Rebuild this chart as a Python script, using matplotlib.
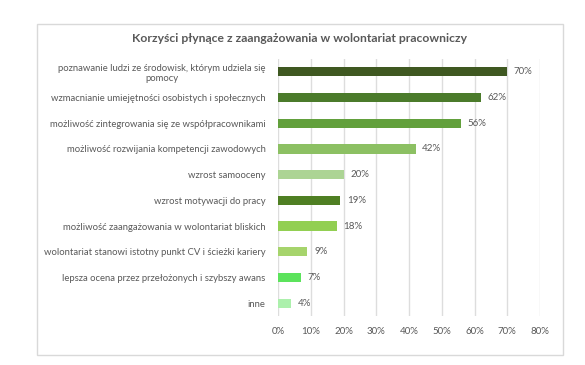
import matplotlib.pyplot as plt
from matplotlib.patches import Rectangle

categories = [
    'poznawanie ludzi ze środowisk, którym udziela się\npomocy',
    'wzmacnianie umiejętności osobistych i społecznych',
    'możliwość zintegrowania się ze współpracownikami',
    'możliwość rozwijania kompetencji zawodowych',
    'wzrost samooceny',
    'wzrost motywacji do pracy',
    'możliwość zaangażowania w wolontariat bliskich',
    'wolontariat stanowi istotny punkt CV i ścieżki kariery',
    'lepsza ocena przez przełożonych i szybszy awans',
    'inne',
]
values = [70, 62, 56, 42, 20, 19, 18, 9, 7, 4]
colors = ['#3f5821', '#4b7b2b', '#62a03c', '#8cc063', '#acd494',
          '#4f7f23', '#92cf52', '#a6d46c', '#5ce35c', '#acf0ac']
xticks = [0, 10, 20, 30, 40, 50, 60, 70, 80]

plt.rcParams['font.family'] = ['Lato', 'DejaVu Sans']
txt = '#595959'

fig = plt.figure(figsize=(5.85, 3.65), dpi=100)
fig.patches.append(Rectangle((37 / 585, 1 - 355 / 365), 526 / 585, 331 / 365,
                             transform=fig.transFigure, fill=False,
                             edgecolor='#d9d9d9', lw=1))
ax = fig.add_axes([278 / 585, 1 - 316 / 365, 262 / 585, 257 / 365])

y = list(range(len(categories)))
ax.barh(y, values, height=0.36, color=colors, zorder=3)
for yi, v in zip(y, values):
    ax.text(v + 2, yi, f'{v}%', va='center', ha='left', fontsize=7, color=txt)

ax.set_xlim(0, 80)
ax.set_ylim(len(categories) - 0.5, -0.5)
ax.set_xticks(xticks)
ax.set_xticklabels([f'{t}%' for t in xticks], fontsize=7, color=txt)
ax.set_yticks(y)
ax.set_yticklabels(categories, fontsize=6.8, color=txt, multialignment='center')
ax.tick_params(axis='both', length=0)
ax.tick_params(axis='x', pad=8)
ax.tick_params(axis='y', pad=9)
ax.grid(axis='x', color='#dddddd', lw=1, zorder=0)
for s in ax.spines.values():
    s.set_visible(False)

fig.text(300 / 585, 1 - 38 / 365, 'Korzyści płynące z zaangażowania w wolontariat pracowniczy',
         ha='center', va='center', fontsize=8.7, fontweight='bold', color=txt)

fig.savefig('out.png', dpi=100)
